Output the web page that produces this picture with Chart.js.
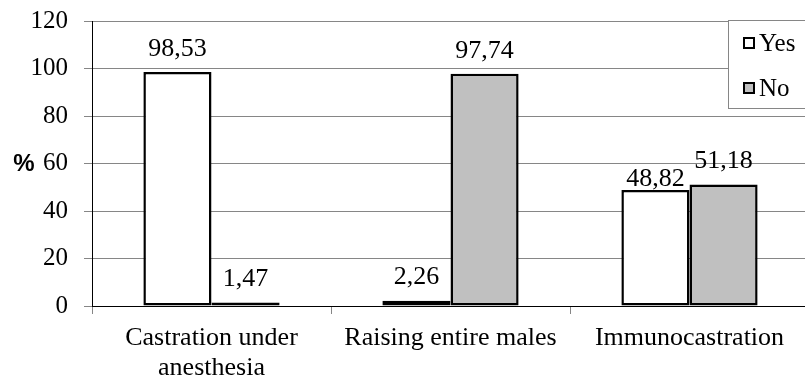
<!DOCTYPE html>
<html>
<head>
<meta charset="utf-8">
<script src="https://cdn.jsdelivr.net/npm/chart.js@4/dist/chart.umd.min.js"></script>
<style>
  html, body { margin: 0; padding: 0; background: #fff; overflow: hidden; }
  #wrap { width: 812px; height: 380px; }
</style>
</head>
<body>
<div id="wrap"><canvas id="c" width="812" height="380"></canvas></div>
<script>
// Survey answers per method (percent of respondents)
const categories = [["Castration under", "anesthesia"], "Raising entire males", "Immunocastration"];
const yesValues = [98.53, 2.26, 48.82];
const noValues = [1.47, 97.74, 51.18];
const seriesNames = ["Yes", "No"];
const yTicks = [0, 20, 40, 60, 80, 100, 120];
const yLabel = "%";

const SERIF = "'Liberation Serif', 'Times New Roman', serif";
const SANS = "'Liberation Sans', Arial, sans-serif";

const fmt = v => v.toFixed(2).replace('.', ',');

// Value labels above each bar
const valueLabels = {
  id: 'valueLabels',
  afterDatasetsDraw(chart, args, opts) {
    const ctx = chart.ctx;
    ctx.save();
    ctx.font = '26px ' + SERIF;
    ctx.fillStyle = '#000';
    ctx.textAlign = 'center';
    ctx.textBaseline = 'middle';
    chart.data.datasets.forEach((ds, di) => {
      const meta = chart.getDatasetMeta(di);
      meta.data.forEach((bar, i) => {
        const key = di + '-' + i;
        const off = (opts.offsets && opts.offsets[key]) || opts.offset;
        ctx.fillText(fmt(ds.data[i]), bar.x, bar.y - off);
      });
    });
    ctx.restore();
  }
};

// Boxed legend in the top-right corner, and the axis unit label
const boxLegend = {
  id: 'boxLegend',
  afterDraw(chart) {
    const ctx = chart.ctx;
    ctx.save();
    const bx = 728, by = 20, bw = 100, bh = 88;
    ctx.fillStyle = '#fff';
    ctx.fillRect(bx, by, bw, bh);
    ctx.strokeStyle = '#868686';
    ctx.lineWidth = 1;
    ctx.strokeRect(bx + 0.5, by + 0.5, bw, bh);
    ctx.font = '25px ' + SERIF;
    ctx.textBaseline = 'middle';
    ctx.textAlign = 'left';
    chart.data.datasets.forEach((ds, i) => {
      const cy = 43 + i * 45;
      ctx.fillStyle = ds.backgroundColor;
      ctx.fillRect(744, cy - 5, 10, 10);
      ctx.strokeStyle = '#000';
      ctx.lineWidth = 2;
      ctx.strokeRect(744, cy - 5, 10, 10);
      ctx.fillStyle = '#000';
      ctx.fillText(ds.label, 759, cy + 1);
    });
    // unit label on the value axis
    const ys = chart.scales.y;
    ctx.font = 'bold 24px ' + SANS;
    ctx.textAlign = 'center';
    ctx.fillText(yLabel, 24, ys.getPixelForValue(60) + 1);
    ctx.restore();
  }
};

new Chart(document.getElementById('c'), {
  type: 'bar',
  data: {
    labels: categories,
    datasets: [
      { label: seriesNames[0], data: yesValues, backgroundColor: '#ffffff', borderColor: '#000', borderWidth: 2.5, borderSkipped: false },
      { label: seriesNames[1], data: noValues, backgroundColor: '#c0c0c0', borderColor: '#000', borderWidth: 2.5, borderSkipped: false }
    ]
  },
  options: {
    responsive: false,
    animation: false,
    events: [],
    layout: { padding: { top: 21, right: 3, left: 0, bottom: 0 } },
    datasets: { bar: { barPercentage: 1.0, categoryPercentage: 0.57 } },
    plugins: {
      legend: { display: false },
      tooltip: { enabled: false },
      valueLabels: { offset: 23, offsets: { '0-2': 11 } }
    },
    scales: {
      x: {
        afterFit(s) { s.height = 74; s.paddingLeft = 0; s.paddingRight = 0; },
        grid: { offset: true, drawOnChartArea: false, tickLength: 8, color: '#868686' },
        border: { color: '#000', width: 1 },
        ticks: { font: { family: SERIF, size: 26, lineHeight: 1.15 }, color: '#000', padding: 9, maxRotation: 0, autoSkip: false }
      },
      y: {
        min: 0, max: 120,
        afterFit(s) { s.width = 92; s.paddingTop = 0; s.paddingBottom = 0; },
        afterBuildTicks(s) { s.ticks = yTicks.map(v => ({ value: v })); },
        grid: { color: '#868686', tickLength: 8 },
        border: { color: '#000', width: 1 },
        ticks: { font: { family: SERIF, size: 25 }, color: '#000', padding: 16 }
      }
    }
  },
  plugins: [valueLabels, boxLegend]
});
</script>
</body>
</html>
